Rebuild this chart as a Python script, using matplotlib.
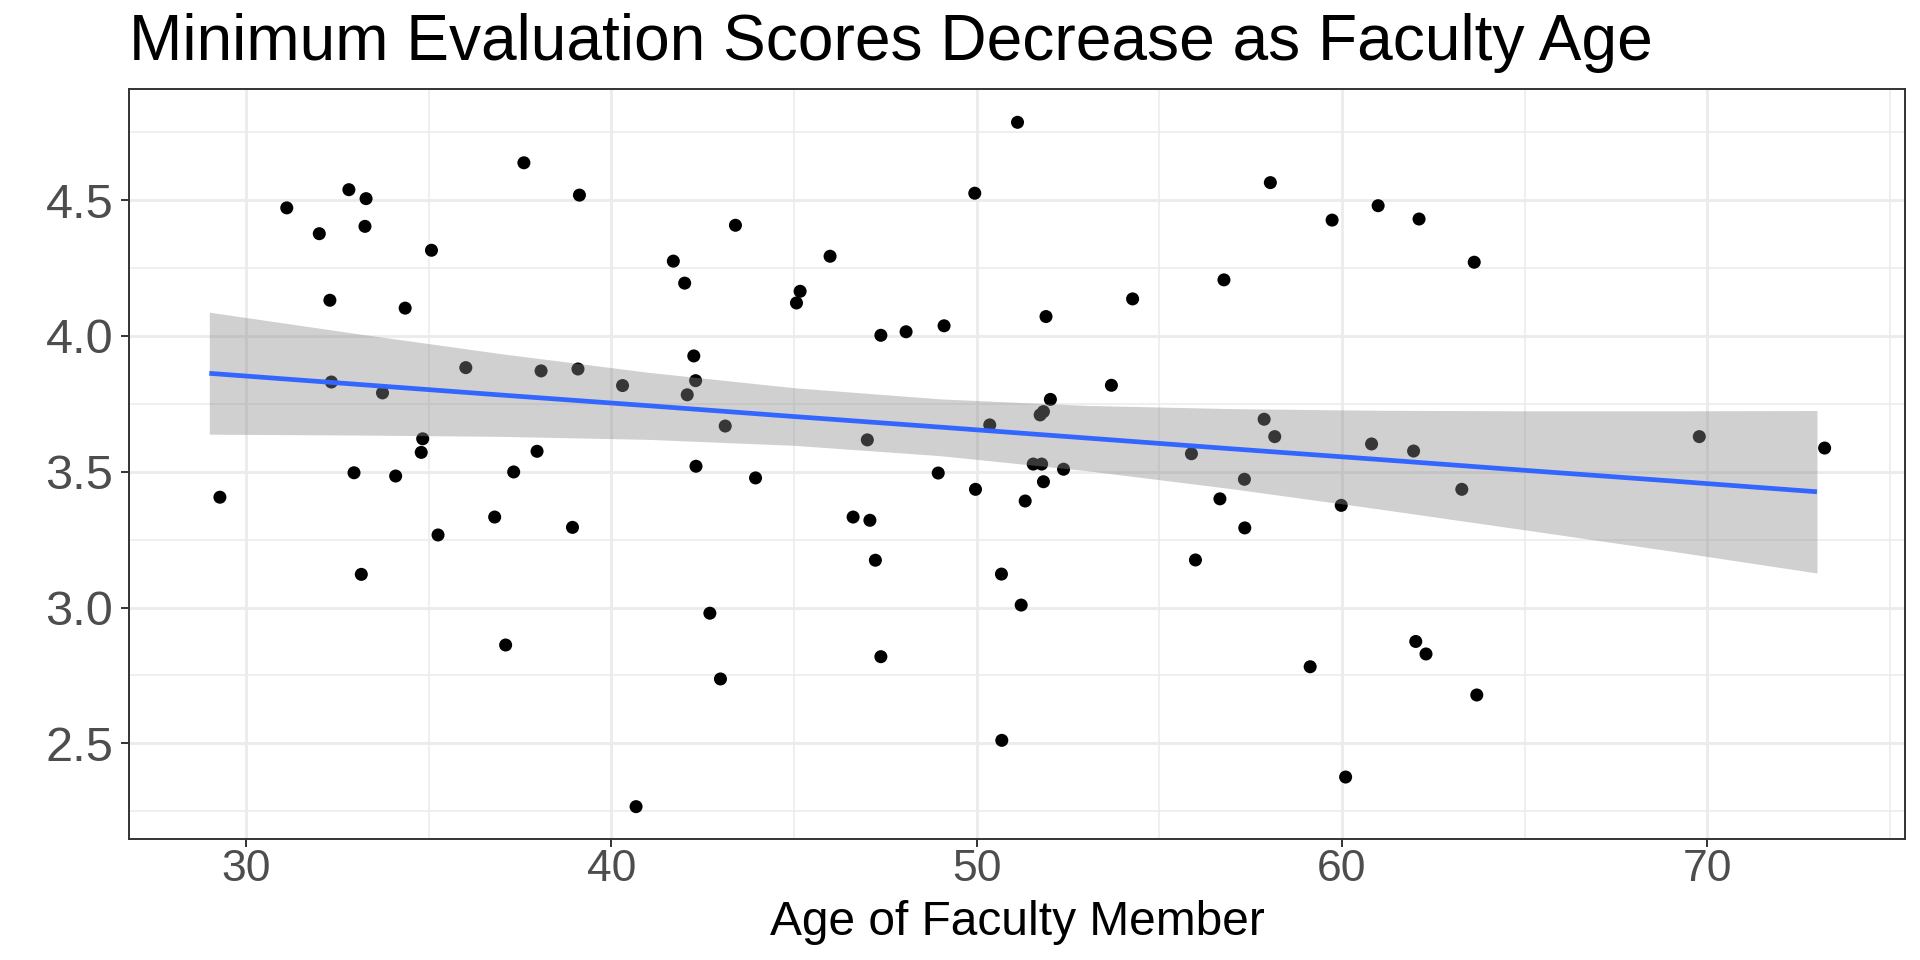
import matplotlib
matplotlib.use("Agg")
import matplotlib.pyplot as plt
import numpy as np

# ---- data ----
age = [31.12, 32.82, 33.29, 32.01, 33.26, 35.08, 37.61, 39.13, 32.30, 34.36,
       32.34, 33.74, 36.02, 38.08, 39.09, 34.84, 34.80, 37.97, 29.29, 32.96,
       34.10, 37.33, 35.26, 36.81, 38.94, 33.16, 37.11, 40.31, 41.70, 42.01,
       43.40, 42.26, 42.31, 42.08, 43.12, 45.07, 45.17, 45.99, 47.38, 48.07,
       49.11, 49.95, 51.12, 51.90, 52.02, 51.74, 51.83, 47.01, 50.36, 42.32,
       43.95, 48.95, 49.97, 51.55, 51.78, 52.38, 51.83, 51.33, 46.62, 47.08,
       47.23, 50.68, 51.22, 42.70, 47.38, 42.99, 50.69, 40.68, 54.27, 53.69,
       56.77, 58.04, 59.73, 60.99, 62.11, 63.62, 57.87, 58.16, 55.88, 60.81,
       61.96, 57.33, 56.66, 59.98, 57.34, 55.99, 63.28, 62.02, 62.30, 59.13,
       63.69, 60.10, 69.78, 73.21]
min_score = [4.471, 4.538, 4.505, 4.376, 4.403, 4.315, 4.637, 4.518, 4.131, 4.102,
             3.830, 3.790, 3.883, 3.871, 3.878, 3.621, 3.571, 3.575, 3.406, 3.496,
             3.484, 3.499, 3.267, 3.333, 3.295, 3.122, 2.862, 3.817, 4.275, 4.194,
             4.407, 3.926, 3.835, 3.783, 3.668, 4.121, 4.164, 4.293, 4.002, 4.015,
             4.037, 4.525, 4.786, 4.071, 3.766, 3.709, 3.721, 3.617, 3.672, 3.520,
             3.477, 3.495, 3.435, 3.528, 3.528, 3.509, 3.463, 3.392, 3.333, 3.321,
             3.174, 3.123, 3.009, 2.979, 2.819, 2.737, 2.511, 2.267, 4.136, 3.818,
             4.206, 4.564, 4.426, 4.479, 4.430, 4.271, 3.693, 3.629, 3.566, 3.602,
             3.576, 3.472, 3.400, 3.376, 3.293, 3.175, 3.435, 2.875, 2.829, 2.782,
             2.678, 2.376, 3.629, 3.587]

# linear smooth (fit line and 95% band)
smooth_x = [29, 33, 37, 41, 45, 49, 53, 57, 61, 65, 69, 73]
smooth_fit = [3.862, 3.822, 3.782, 3.743, 3.703, 3.664, 3.624, 3.584, 3.545, 3.505, 3.466, 3.426]
smooth_hi = [4.087, 4.009, 3.934, 3.866, 3.809, 3.768, 3.744, 3.732, 3.726, 3.724, 3.724, 3.725]
smooth_lo = [3.638, 3.635, 3.630, 3.619, 3.597, 3.559, 3.504, 3.437, 3.363, 3.286, 3.208, 3.127]

x_ticks = [30, 40, 50, 60, 70]
x_minor = [35, 45, 55, 65, 75]
y_ticks = [2.5, 3.0, 3.5, 4.0, 4.5]
y_minor = [2.25, 2.75, 3.25, 3.75, 4.25, 4.75]

title = "Minimum Evaluation Scores Decrease as Faculty Age"
xlabel = "Age of Faculty Member"

# ---- figure ----
plt.rcParams['font.family'] = ['Liberation Sans', 'DejaVu Sans']
W, H = 1920, 960
fig = plt.figure(figsize=(W / 100, H / 100), dpi=100)
L, R, T, B = 129.3, 1905, 89, 839.3
ax = fig.add_axes([L / W, 1 - B / H, (R - L) / W, (B - T) / H])

ax.set_xticks(x_ticks)
ax.set_xticks(x_minor, minor=True)
ax.set_yticks(y_ticks)
ax.set_yticks(y_minor, minor=True)
ax.set_xticklabels([str(t) for t in x_ticks])
ax.set_yticklabels([f"{t:.1f}" for t in y_ticks])

ax.grid(which='major', color='#EBEBEB', linewidth=2.0, zorder=0)
ax.grid(which='minor', color='#EBEBEB', linewidth=1.1, zorder=0)
ax.set_axisbelow(True)

ax.tick_params(axis='x', which='major', length=5.8, width=1.4, color='#333333',
               labelsize=32, labelcolor='#4D4D4D', pad=1)
ax.tick_params(axis='y', which='major', length=5.5, width=1.4, color='#333333',
               labelsize=35, labelcolor='#4D4D4D', pad=6)
ax.tick_params(axis='both', which='minor', length=0)
for s in ax.spines.values():
    s.set_color('#333333')
    s.set_linewidth(1.4)

ax.scatter(age, min_score, s=88, color='black', edgecolors='none', zorder=2)
ax.fill_between(smooth_x, smooth_lo, smooth_hi, color='#8A8A8A', alpha=0.4,
                linewidth=0, zorder=3)
ax.plot(smooth_x, smooth_fit, color='#3366FF', linewidth=3.4, zorder=4,
        solid_capstyle='butt')

ax.set_xlim(26.81, 75.41)
ax.set_ylim(2.1468, 4.9086)

fig.text((L + R) / 2 / W, 1 - 935 / H, xlabel, fontsize=34.5, color='black',
         ha='center', va='baseline')
fig.text(L / W, 1 - 60 / H, title, fontsize=46.1, color='black',
         ha='left', va='baseline')

fig.savefig("out.png", dpi=100, facecolor='white')
